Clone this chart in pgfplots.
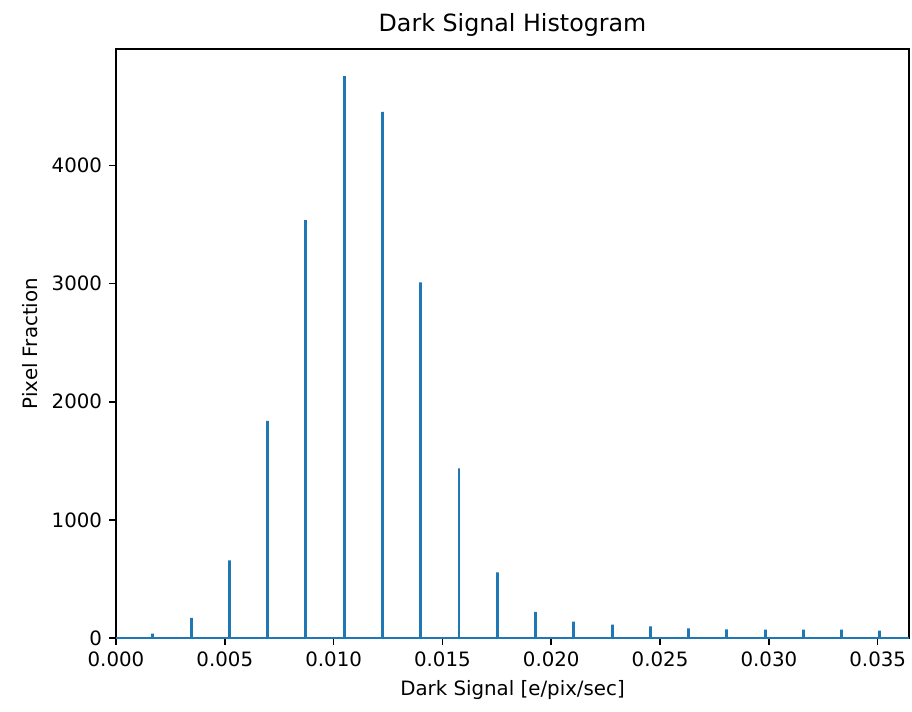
\documentclass[border=0pt]{standalone}
\usepackage{fontspec}
\setmainfont{DejaVu Sans}
\usepackage{pgfplots}
\pgfplotsset{compat=1.18}
\usetikzlibrary{calc}
\definecolor{mplblue}{HTML}{1F77B4}
\begin{document}
\begin{tikzpicture}
\begin{axis}[
  scale only axis,
  width=400.7pt, height=297.6pt,
  xmin=0, xmax=0.03644,
  ymin=0, ymax=4985,
  axis line style={line width=0.8pt},
  tick align=outside,
  xtick pos=left, ytick pos=left,
  major tick length=3.5pt,
  tick style={line width=0.8pt, black},
  xtick={0,0.005,0.010,0.015,0.020,0.025,0.030,0.035},
  ytick={0,1000,2000,3000,4000},
  scaled x ticks=false,
  scaled y ticks=false,
  xticklabel style={/pgf/number format/fixed, /pgf/number format/fixed zerofill, /pgf/number format/precision=3, /pgf/number format/assume math mode=true},
  yticklabel style={/pgf/number format/fixed, /pgf/number format/1000 sep={}, /pgf/number format/assume math mode=true},
  ticklabel style={font=\fontsize{10}{12}\selectfont, color=black},
  title={Dark Signal Histogram},
  title style={font=\fontsize{12}{14}\selectfont, yshift=-3pt},
  xlabel={Dark Signal [e/pix/sec]},
  ylabel={Pixel Fraction},
  label style={font=\fontsize{10}{12}\selectfont, color=black},
  clip=true,
]
\addplot[color=mplblue, line width=1.5pt, line join=miter] coordinates {
(0,0)
(0.001698,0) (0.001698,38) (0.001698,0)
(0.003456,0) (0.003456,170) (0.003456,0)
(0.005214,0) (0.005214,657) (0.005214,0)
(0.006972,0) (0.006972,1838) (0.006972,0)
(0.008730,0) (0.008730,3538) (0.008730,0)
(0.010488,0) (0.010488,4755) (0.010488,0)
(0.012246,0) (0.012246,4454) (0.012246,0)
(0.014004,0) (0.014004,3011) (0.014004,0)
(0.015762,0) (0.015762,1436) (0.015762,0)
(0.017520,0) (0.017520,555) (0.017520,0)
(0.019278,0) (0.019278,221) (0.019278,0)
(0.021036,0) (0.021036,139) (0.021036,0)
(0.022794,0) (0.022794,114) (0.022794,0)
(0.024552,0) (0.024552,100) (0.024552,0)
(0.026310,0) (0.026310,83) (0.026310,0)
(0.028068,0) (0.028068,74) (0.028068,0)
(0.029826,0) (0.029826,72) (0.029826,0)
(0.031584,0) (0.031584,72) (0.031584,0)
(0.033342,0) (0.033342,72) (0.033342,0)
(0.035100,0) (0.035100,63) (0.035100,0)
(0.03644,0)
};
\end{axis}
\pgfresetboundingbox
\path ($(current axis.south west)+(-58.6pt,-36.9pt)$) rectangle ($(current axis.north east)+(1.5pt,24.8pt)$);
\end{tikzpicture}
\end{document}
